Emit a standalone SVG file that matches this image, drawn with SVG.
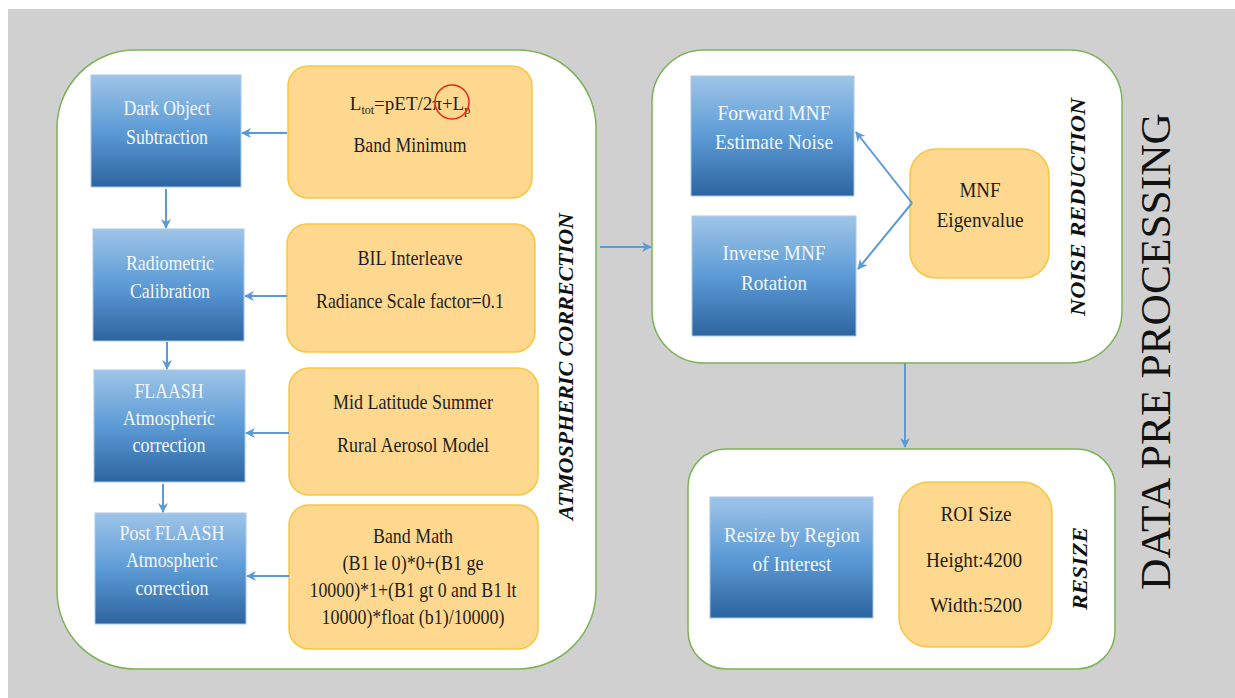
<svg xmlns="http://www.w3.org/2000/svg" width="1235" height="698" viewBox="0 0 1235 698">
  <defs>
    <linearGradient id="blueFill" x1="0" y1="0" x2="0" y2="1">
      <stop offset="0" stop-color="#9fc5e8"/>
      <stop offset="0.5" stop-color="#5c9bd6"/>
      <stop offset="1" stop-color="#2d64a0"/>
    </linearGradient>
    <marker id="arrow" viewBox="0 0 10 10" refX="9" refY="5" markerWidth="5" markerHeight="5" orient="auto" markerUnits="strokeWidth">
      <path d="M0,0 L10,5 L0,10 L3,5 z" fill="#5b9bd5"/>
    </marker>
    <style>
      .panel { fill: #ffffff; stroke: #7cb356; stroke-width: 1.5; }
      .step { fill: url(#blueFill); stroke: #a9c8e8; stroke-width: 1; }
      .param { fill: #fed88e; stroke: #f8c640; stroke-width: 1.5; }
      .lbl { font-family: "Liberation Serif", "Times New Roman", serif; font-size: 22px; text-anchor: middle; }
      .w { fill: #f4f7fb; }
      .d { fill: #1e1e1e; }
      .side { font-family: "Liberation Serif", "Times New Roman", serif; font-size: 22px; font-weight: bold; font-style: italic; fill: #111; text-anchor: middle; }
      .title { font-family: "Liberation Serif", "Times New Roman", serif; font-size: 42px; fill: #111; text-anchor: middle; }
      .link { fill: none; stroke: #5b9bd5; stroke-width: 2; marker-end: url(#arrow); }
    </style>
  </defs>

  <!-- page background -->
  <rect x="0" y="0" width="1235" height="698" fill="#ffffff"/>
  <rect x="8" y="9" width="1227" height="689" fill="#d0d0d0"/>

  <!-- stage panels -->
  <g id="panel-atmospheric">
    <rect class="panel" x="57" y="50" width="539" height="619" rx="78" ry="78"/>
    <text class="side" transform="translate(573,366.5) rotate(-90)" textLength="307" lengthAdjust="spacingAndGlyphs">ATMOSPHERIC CORRECTION</text>
  </g>
  <g id="panel-noise">
    <rect class="panel" x="652" y="50" width="470" height="313" rx="52" ry="52"/>
    <text class="side" transform="translate(1085,207) rotate(-90)" textLength="218" lengthAdjust="spacingAndGlyphs">NOISE REDUCTION</text>
  </g>
  <g id="panel-resize">
    <rect class="panel" x="688" y="449" width="427" height="220" rx="38" ry="38"/>
    <text class="side" transform="translate(1087,568.5) rotate(-90)" textLength="83" lengthAdjust="spacingAndGlyphs">RESIZE</text>
  </g>
  <g id="title">
    <text class="title" transform="translate(1170,351.5) rotate(-90)" textLength="477" lengthAdjust="spacingAndGlyphs">DATA PRE PROCESSING</text>
  </g>

  <!-- atmospheric correction steps -->
  <g id="dark-object">
    <rect class="step" x="91" y="75" width="150" height="112"/>
    <text class="lbl w" x="167" y="115" textLength="87" lengthAdjust="spacingAndGlyphs">Dark Object</text>
    <text class="lbl w" x="167" y="144" textLength="82" lengthAdjust="spacingAndGlyphs">Subtraction</text>
  </g>
  <g id="radiometric">
    <rect class="step" x="93" y="229" width="151" height="112"/>
    <text class="lbl w" x="170" y="270" textLength="88" lengthAdjust="spacingAndGlyphs">Radiometric</text>
    <text class="lbl w" x="170" y="298" textLength="80" lengthAdjust="spacingAndGlyphs">Calibration</text>
  </g>
  <g id="flaash">
    <rect class="step" x="94" y="370" width="151" height="112"/>
    <text class="lbl w" x="169" y="398" textLength="69" lengthAdjust="spacingAndGlyphs">FLAASH</text>
    <text class="lbl w" x="169" y="425" textLength="92" lengthAdjust="spacingAndGlyphs">Atmospheric</text>
    <text class="lbl w" x="169" y="452" textLength="73" lengthAdjust="spacingAndGlyphs">correction</text>
  </g>
  <g id="post-flaash">
    <rect class="step" x="95" y="513" width="151" height="111"/>
    <text class="lbl w" x="172" y="540" textLength="105" lengthAdjust="spacingAndGlyphs">Post FLAASH</text>
    <text class="lbl w" x="172" y="567" textLength="92" lengthAdjust="spacingAndGlyphs">Atmospheric</text>
    <text class="lbl w" x="172" y="595" textLength="73" lengthAdjust="spacingAndGlyphs">correction</text>
  </g>

  <!-- atmospheric correction parameters -->
  <g id="band-minimum">
    <rect class="param" x="288" y="66" width="244" height="132" rx="20" ry="20"/>
    <text class="lbl d" x="410" y="110" style="font-size:19px">L<tspan font-size="12" dy="4">tot</tspan><tspan dy="-4">=pET/2π+L</tspan><tspan font-size="12" dy="4">p</tspan></text>
    <circle cx="452" cy="102" r="17" fill="none" stroke="#e8261e" stroke-width="1.5"/>
    <text class="lbl d" x="410" y="152" textLength="113" lengthAdjust="spacingAndGlyphs">Band Minimum</text>
  </g>
  <g id="bil-interleave">
    <rect class="param" x="287" y="224" width="248" height="128" rx="20" ry="20"/>
    <text class="lbl d" x="410" y="265" textLength="105" lengthAdjust="spacingAndGlyphs">BIL Interleave</text>
    <text class="lbl d" x="410" y="308" textLength="188" lengthAdjust="spacingAndGlyphs">Radiance Scale factor=0.1</text>
  </g>
  <g id="aerosol-model">
    <rect class="param" x="289" y="368" width="249" height="127" rx="20" ry="20"/>
    <text class="lbl d" x="413" y="409" textLength="160" lengthAdjust="spacingAndGlyphs">Mid Latitude Summer</text>
    <text class="lbl d" x="413" y="452" textLength="152" lengthAdjust="spacingAndGlyphs">Rural Aerosol Model</text>
  </g>
  <g id="band-math">
    <rect class="param" x="289" y="505" width="249" height="144" rx="20" ry="20"/>
    <text class="lbl d" x="413" y="543" textLength="80" lengthAdjust="spacingAndGlyphs">Band Math</text>
    <text class="lbl d" x="413" y="570" textLength="141" lengthAdjust="spacingAndGlyphs">(B1 le 0)*0+(B1 ge</text>
    <text class="lbl d" x="413" y="597" textLength="207" lengthAdjust="spacingAndGlyphs">10000)*1+(B1 gt 0 and B1 lt</text>
    <text class="lbl d" x="413" y="624" textLength="183" lengthAdjust="spacingAndGlyphs">10000)*float (b1)/10000)</text>
  </g>

  <!-- noise reduction -->
  <g id="forward-mnf">
    <rect class="step" x="691" y="76" width="163" height="120"/>
    <text class="lbl w" x="774" y="120" textLength="113" lengthAdjust="spacingAndGlyphs">Forward MNF</text>
    <text class="lbl w" x="774" y="149" textLength="118" lengthAdjust="spacingAndGlyphs">Estimate Noise</text>
  </g>
  <g id="inverse-mnf">
    <rect class="step" x="692" y="216" width="164" height="120"/>
    <text class="lbl w" x="774" y="260" textLength="103" lengthAdjust="spacingAndGlyphs">Inverse MNF</text>
    <text class="lbl w" x="774" y="290" textLength="66" lengthAdjust="spacingAndGlyphs">Rotation</text>
  </g>
  <g id="mnf-eigenvalue">
    <rect class="param" x="910" y="149" width="139" height="129" rx="26" ry="26"/>
    <text class="lbl d" x="980" y="197" textLength="41" lengthAdjust="spacingAndGlyphs">MNF</text>
    <text class="lbl d" x="980" y="227" textLength="87" lengthAdjust="spacingAndGlyphs">Eigenvalue</text>
  </g>

  <!-- resize -->
  <g id="resize-roi">
    <rect class="step" x="710" y="497" width="163" height="121"/>
    <text class="lbl w" x="792" y="542" textLength="136" lengthAdjust="spacingAndGlyphs">Resize by Region</text>
    <text class="lbl w" x="792" y="571" textLength="79" lengthAdjust="spacingAndGlyphs">of Interest</text>
  </g>
  <g id="roi-size">
    <rect class="param" x="899" y="482" width="153" height="165" rx="30" ry="30"/>
    <text class="lbl d" x="976" y="521" textLength="71" lengthAdjust="spacingAndGlyphs">ROI Size</text>
    <text class="lbl d" x="974" y="567" textLength="96" lengthAdjust="spacingAndGlyphs">Height:4200</text>
    <text class="lbl d" x="976" y="612" textLength="92" lengthAdjust="spacingAndGlyphs">Width:5200</text>
  </g>

  <!-- connectors -->
  <g id="connectors">
    <path class="link" d="M287,133 L242,133"/>
    <path class="link" d="M287,296 L245,296"/>
    <path class="link" d="M289,433 L246,433"/>
    <path class="link" d="M289,576 L247,576"/>
    <path class="link" d="M166,189 L166,228"/>
    <path class="link" d="M167,342 L167,369"/>
    <path class="link" d="M163,484 L163,512"/>
    <path class="link" d="M600,247 L651,247"/>
    <path class="link" d="M912,203 L856,132"/>
    <path class="link" d="M912,203 L858,269"/>
    <path class="link" d="M905,363 L905,447"/>
  </g>
</svg>
